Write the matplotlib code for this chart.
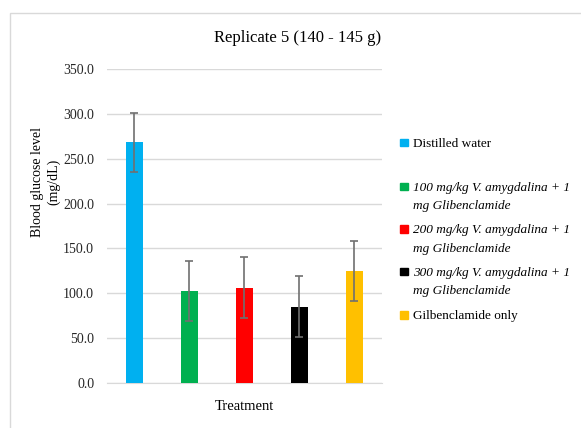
import matplotlib
matplotlib.use('Agg')
import matplotlib.pyplot as plt
from matplotlib.patches import Rectangle

# data
treatments = ['Distilled water',
              '100 mg/kg V. amygdalina + 1\nmg Glibenclamide',
              '200 mg/kg V. amygdalina + 1\nmg Glibenclamide',
              '300 mg/kg V. amygdalina + 1\nmg Glibenclamide',
              'Gilbenclamide only']
glucose = [268.5, 102.5, 106.0, 85.0, 125.0]
err = [33.0, 33.5, 34.0, 34.0, 33.5]
colors = ['#00B0F0', '#00B050', '#FF0000', '#000000', '#FFC000']
italic = [False, True, True, True, False]
yticks = [0, 50, 100, 150, 200, 250, 300, 350]

plt.rcParams['font.family'] = ['Liberation Serif', 'DejaVu Serif']

W, H = 581, 428
fig = plt.figure(figsize=(W / 100, H / 100), dpi=100)
# chart area border, running off the right and bottom edges
fig.patches.append(Rectangle((10 / W, -0.1), 1, 1.1 - 12.5 / H, transform=fig.transFigure,
                             fill=False, edgecolor='#D9D9D9', lw=1))

ax = fig.add_axes([106.7 / W, 1 - 382.7 / H, 275 / W, (382.7 - 69.2) / H])
x = list(range(len(glucose)))
ax.bar(x, glucose, width=0.31, color=colors, zorder=3,
       yerr=err, error_kw=dict(ecolor='#707070', elinewidth=1.2, capsize=3, capthick=1.2, zorder=4))
ax.set_xlim(-0.5, 4.5)
ax.set_ylim(0, 350)
ax.set_yticks(yticks)
ax.set_yticklabels(['%.1f' % v for v in yticks], fontsize=10, color='#262626')
ax.set_xticks([])
ax.tick_params(axis='y', length=0, pad=9)
ax.grid(axis='y', color='#D9D9D9', lw=1, zorder=0)
for s in ['top', 'right', 'left']:
    ax.spines[s].set_visible(False)
ax.spines['bottom'].set_color('#D9D9D9')

fig.text(298 / W, 1 - 38 / H, 'Replicate 5 (140 - 145 g)', ha='center', va='center', fontsize=12)
fig.text(244 / W, 1 - 406 / H, 'Treatment', ha='center', va='center', fontsize=10.5)
fig.text(46 / W, 1 - 182 / H, 'Blood glucose level\n(mg/dL)', ha='center', va='center',
         rotation=90, fontsize=10, linespacing=1.3)

# legend drawn by hand (Excel-style uneven spacing)
rows_y = [142.7, 186.7, 229, 271.7, 315]
for lab, c, it, yy in zip(treatments, colors, italic, rows_y):
    fig.patches.append(Rectangle((400 / W, 1 - (yy + 3.5) / H), 7.5 / W, 7.5 / H,
                                 transform=fig.transFigure, color=c))
    fig.text(413 / W, 1 - (yy - 4.5) / H, lab, ha='left', va='top', fontsize=9.5,
             style='italic' if it else 'normal', linespacing=1.7)

fig.savefig('out.png', dpi=100)
